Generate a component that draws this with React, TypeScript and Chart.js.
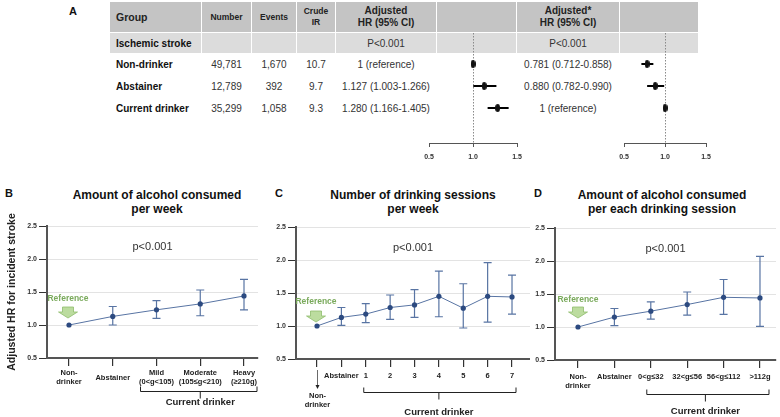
import React, { useEffect, useRef } from 'react';
import { Chart, registerables } from 'chart.js';
Chart.register(...registerables);

const FONT = '"Liberation Sans", Arial, Helvetica, sans-serif';
const NARROW = '"Liberation Sans Narrow", "Liberation Sans", Arial, sans-serif';
Chart.defaults.font.family = FONT;
Chart.defaults.color = '#222';

// ---------- Panel A data ----------
const tableGroups = ['Non-drinker', 'Abstainer', 'Current drinker'];
const tableNumber = ['49,781', '12,789', '35,299'];
const tableEvents = ['1,670', '392', '1,058'];
const tableCrudeIR = ['10.7', '9.7', '9.3'];
const adjText = ['1 (reference)', '1.127 (1.003-1.266)', '1.280 (1.166-1.405)'];
const adjHR = [1, 1.127, 1.28];
const adjLow = [1, 1.003, 1.166];
const adjHigh = [1, 1.266, 1.405];
const adj2Text = ['0.781 (0.712-0.858)', '0.880 (0.782-0.990)', '1 (reference)'];
const adj2HR = [0.781, 0.88, 1];
const adj2Low = [0.712, 0.782, 1];
const adj2High = [0.858, 0.99, 1];
const forestTicks = [0.5, 1.0, 1.5];

// ---------- Panel B data ----------
const bLabels: (string | string[])[] = [['Non-', 'drinker'], 'Abstainer', ['Mild', '(0<g<105)'], ['Moderate', '(105≤g<210)'], ['Heavy', '(≥210g)']];
const bHR = [1.0, 1.13, 1.23, 1.32, 1.44];
const bLow = [1.0, 1.0, 1.1, 1.14, 1.23];
const bHigh = [1.0, 1.28, 1.37, 1.53, 1.69];

// ---------- Panel C data ----------
const cLabels: (string | string[])[] = ['', 'Abstainer', '1', '2', '3', '4', '5', '6', '7'];
const cHR = [1.0, 1.13, 1.18, 1.28, 1.32, 1.45, 1.27, 1.45, 1.44];
const cLow = [1.0, 1.01, 1.05, 1.1, 1.13, 1.14, 0.97, 1.06, 1.18];
const cHigh = [1.0, 1.28, 1.34, 1.47, 1.55, 1.83, 1.64, 1.96, 1.77];

// ---------- Panel D data ----------
const dLabels: (string | string[])[] = [['Non-', 'drinker'], 'Abstainer', '0<g≤32', '32<g≤56', '56<g≤112', '>112g'];
const dHR = [1.0, 1.15, 1.24, 1.34, 1.45, 1.44];
const dLow = [1.0, 1.02, 1.12, 1.18, 1.19, 1.01];
const dHigh = [1.0, 1.28, 1.38, 1.53, 1.72, 2.07];

const yTicks = [0.5, 1.0, 1.5, 2.0, 2.5];

const LINE_COLOR = '#5874a3';
const POINT_COLOR = '#2c4a80';
const ERR_COLOR = '#5874a3';

function makeEllipse(w: number, h: number, color: string) {
  const c = document.createElement('canvas');
  c.width = w; c.height = h;
  const g = c.getContext('2d')!;
  g.fillStyle = color;
  g.beginPath();
  g.ellipse(w / 2, h / 2, w / 2, h / 2, 0, 0, Math.PI * 2);
  g.fill();
  return c;
}

type ForestProps = { left: number; width: number; padL: number; padR: number; values: number[]; low: number[]; high: number[] };

function Forest({ left, width, padL, padR, values, low, high }: ForestProps) {
  const ref = useRef<HTMLCanvasElement>(null);
  useEffect(() => {
    const marker = makeEllipse(5, 8, '#111');
    const ciPlugin = {
      id: 'ci',
      beforeDatasetsDraw(chart: any) {
        const { ctx, chartArea } = chart;
        const x = chart.scales.x, y = chart.scales.y;
        ctx.save();
        ctx.strokeStyle = '#8a8a8a';
        ctx.lineWidth = 1;
        ctx.setLineDash([1.5, 1.5]);
        const x1 = Math.round(x.getPixelForValue(1)) + 0.5;
        ctx.beginPath();
        ctx.moveTo(x1, chartArea.top);
        ctx.lineTo(x1, chartArea.bottom);
        ctx.stroke();
        ctx.setLineDash([]);
        ctx.strokeStyle = '#000';
        ctx.lineWidth = 2;
        values.forEach((_v, i) => {
          if (low[i] === high[i]) return;
          const py = y.getPixelForValue(i);
          ctx.beginPath();
          ctx.moveTo(x.getPixelForValue(low[i]), py);
          ctx.lineTo(x.getPixelForValue(high[i]), py);
          ctx.stroke();
        });
        ctx.restore();
      },
    };
    const chart = new Chart(ref.current!, {
      type: 'scatter',
      data: {
        datasets: [{
          data: values.map((v, i) => ({ x: v, y: i })),
          pointStyle: marker as any,
          pointRadius: 4,
          backgroundColor: '#000',
          borderWidth: 0,
        }],
      },
      options: {
        responsive: false,
        animation: false,
        layout: { padding: { left: padL, right: padR, top: 0, bottom: 0 }, autoPadding: false } as any,
        plugins: { legend: { display: false }, tooltip: { enabled: false } },
        scales: {
          x: {
            type: 'linear', min: 0.5, max: 1.5,
            afterBuildTicks: (ax: any) => { ax.ticks = forestTicks.map((v) => ({ value: v })); },
            afterFit: (ax: any) => { ax.height = 25; ax.paddingLeft = 0; ax.paddingRight = 0; },
            grid: { drawOnChartArea: false, tickLength: 4, tickColor: '#555' },
            border: { display: true, color: '#555', width: 1 },
            ticks: {
              callback: (v: any) => Number(v).toFixed(1),
              font: { family: NARROW, size: 7, weight: 'bold' },
              color: '#333', padding: 6, maxRotation: 0, autoSkip: false,
            },
          },
          y: { type: 'linear', display: false, reverse: true, min: -1.409, max: 3.59 },
        },
      } as any,
      plugins: [ciPlugin],
    });
    return () => chart.destroy();
  }, []);
  return <canvas ref={ref} width={width} height={135} style={{ position: 'absolute', left, top: 33, width, height: 135 }} />;
}

type PanelCfg = {
  left: number; width: number; yAxisW: number; padRight: number; chartBottom: number;
  xMin: number; xMax: number;
  labels: (string | string[])[]; values: number[]; low: number[]; high: number[];
  crossAlign: 'near' | 'center';
  tickPad: number;
  yTitle?: string;
  refTextDy: number; refArrowDy: number; refDx: number;
  bracketFrom: number; bracketTo: number; bracketPadL: number; bracketPadR: number;
  bracketDy: number; bracketTextDy: number;
  nonDrinkerBelow?: boolean;
};

const pValueY = 2.18;

function drawBlockArrow(ctx: CanvasRenderingContext2D, cx: number, top: number) {
  ctx.beginPath();
  ctx.moveTo(cx - 5.5, top);
  ctx.lineTo(cx + 5.5, top);
  ctx.lineTo(cx + 5.5, top + 5);
  ctx.lineTo(cx + 9.5, top + 5);
  ctx.lineTo(cx, top + 11);
  ctx.lineTo(cx - 9.5, top + 5);
  ctx.lineTo(cx - 5.5, top + 5);
  ctx.closePath();
  ctx.fillStyle = '#bcdc9f';
  ctx.fill();
  ctx.strokeStyle = '#8fbd6d';
  ctx.lineWidth = 0.8;
  ctx.stroke();
}

function Panel({ cfg }: { cfg: PanelCfg }) {
  const ref = useRef<HTMLCanvasElement>(null);
  const top = 200, height = 217;
  useEffect(() => {
    const plugin = {
      id: 'panelExtras',
      beforeDatasetsDraw(chart: any) {
        const { ctx } = chart;
        const x = chart.scales.x, y = chart.scales.y;
        ctx.save();
        ctx.strokeStyle = ERR_COLOR;
        ctx.lineWidth = 1.2;
        cfg.values.forEach((_v, i) => {
          const lo = cfg.low[i], hi = cfg.high[i];
          if (lo === hi) return;
          const px = x.getPixelForValue(i);
          const yl = y.getPixelForValue(lo), yh = y.getPixelForValue(hi);
          ctx.beginPath();
          ctx.moveTo(px, yl); ctx.lineTo(px, yh);
          ctx.moveTo(px - 4, yl); ctx.lineTo(px + 4, yl);
          ctx.moveTo(px - 4, yh); ctx.lineTo(px + 4, yh);
          ctx.stroke();
        });
        ctx.restore();
      },
      afterDraw(chart: any) {
        const { ctx, chartArea } = chart;
        const x = chart.scales.x, y = chart.scales.y;
        ctx.save();
        ctx.font = `11px ${FONT}`;
        ctx.fillStyle = '#333';
        ctx.textAlign = 'center';
        ctx.textBaseline = 'middle';
        ctx.fillText('p<0.001', (chartArea.left + chartArea.right) / 2, y.getPixelForValue(pValueY));
        const px0 = x.getPixelForValue(0);
        const py0 = y.getPixelForValue(cfg.values[0]);
        ctx.font = `bold 8.5px ${FONT}`;
        ctx.fillStyle = '#7aaa5c';
        ctx.fillText('Reference', px0 + cfg.refDx, py0 + cfg.refTextDy);
        drawBlockArrow(ctx, px0 + cfg.refDx, py0 + cfg.refArrowDy);
        const bl = x.getPixelForValue(cfg.bracketFrom) - cfg.bracketPadL;
        const br = x.getPixelForValue(cfg.bracketTo) + cfg.bracketPadR;
        const bc = (x.getPixelForValue(cfg.bracketFrom) + x.getPixelForValue(cfg.bracketTo)) / 2;
        const by = Math.round(chartArea.bottom + cfg.bracketDy) + 0.5;
        ctx.strokeStyle = '#222';
        ctx.lineWidth = 1;
        ctx.beginPath();
        ctx.moveTo(bl, by - 5); ctx.lineTo(bl, by); ctx.lineTo(br, by); ctx.lineTo(br, by - 5);
        ctx.moveTo(bc, by); ctx.lineTo(bc, by + 7);
        ctx.stroke();
        ctx.font = `bold 9.5px ${FONT}`;
        ctx.fillStyle = '#222';
        ctx.fillText('Current drinker', bc, chartArea.bottom + cfg.bracketTextDy);
        if (cfg.nonDrinkerBelow) {
          const ax = Math.round(px0) + 0.5;
          const t0 = chartArea.bottom + 11, t1 = chartArea.bottom + 29;
          ctx.strokeStyle = '#444';
          ctx.lineWidth = 0.8;
          ctx.beginPath(); ctx.moveTo(ax, t0); ctx.lineTo(ax, t1); ctx.stroke();
          ctx.fillStyle = '#222';
          ctx.beginPath(); ctx.moveTo(ax - 2, t1 - 3); ctx.lineTo(ax + 2, t1 - 3); ctx.lineTo(ax, t1 + 1); ctx.closePath(); ctx.fill();
          ctx.font = `bold 7.5px ${FONT}`;
          ctx.fillText('Non-', ax, chartArea.bottom + 37);
          ctx.fillText('drinker', ax, chartArea.bottom + 46);
        }
        ctx.restore();
      },
    };
    const chart = new Chart(ref.current!, {
      type: 'line',
      data: {
        datasets: [{
          data: cfg.values.map((v, i) => ({ x: i, y: v })),
          borderColor: LINE_COLOR,
          borderWidth: 1,
          pointRadius: 2.6,
          pointBackgroundColor: POINT_COLOR,
          pointBorderWidth: 0,
          tension: 0,
        }],
      },
      options: {
        responsive: false,
        animation: false,
        layout: { padding: { left: 0, right: cfg.padRight, top: cfg.chartBottom - 132 - top, bottom: 0 }, autoPadding: false } as any,
        plugins: { legend: { display: false }, tooltip: { enabled: false } },
        scales: {
          x: {
            type: 'linear', min: cfg.xMin, max: cfg.xMax,
            afterBuildTicks: (ax: any) => { ax.ticks = cfg.labels.map((_l, i) => ({ value: i })); },
            afterFit: (ax: any) => { ax.height = top + height - cfg.chartBottom; ax.paddingLeft = 0; ax.paddingRight = 0; },
            grid: { drawOnChartArea: false, tickLength: 8, tickColor: '#333', lineWidth: 1.2 },
            border: { display: true, color: '#555', width: 2 },
            ticks: {
              callback: (v: any) => cfg.labels[Math.round(Number(v))] as any,
              font: { size: 7.5, weight: 'bold' }, color: '#222',
              padding: cfg.tickPad, maxRotation: 0, autoSkip: false, crossAlign: cfg.crossAlign,
            },
          },
          y: {
            type: 'linear', min: 0.5, max: 2.5,
            afterBuildTicks: (ax: any) => { ax.ticks = yTicks.map((v) => ({ value: v })); },
            afterFit: (ax: any) => { ax.width = cfg.yAxisW; ax.paddingTop = 0; ax.paddingBottom = 0; },
            grid: {
              color: (c: any) => (c.tick && c.tick.value === 0.5 ? 'rgba(0,0,0,0)' : '#e3e3e3'),
              tickColor: '#333', tickLength: 8, lineWidth: 1,
            },
            border: { display: true, color: '#555', width: 2 },
            ticks: { callback: (v: any) => Number(v).toFixed(1), font: { size: 7, weight: 'bold' }, color: '#333', padding: 2 },
            title: cfg.yTitle
              ? { display: true, text: cfg.yTitle, font: { size: 10.5, weight: 'bold' }, color: '#222', padding: { top: 6, bottom: 0 } }
              : { display: false },
          },
        },
      } as any,
      plugins: [plugin],
    });
    return () => chart.destroy();
  }, []);
  return <canvas ref={ref} width={cfg.width} height={height} style={{ position: 'absolute', left: cfg.left, top, width: cfg.width, height }} />;
}

const panelB: PanelCfg = {
  left: 0, width: 262, yAxisW: 47, padRight: 4, chartBottom: 358,
  xMin: -0.503, xMax: 4.32,
  labels: bLabels, values: bHR, low: bLow, high: bHigh,
  crossAlign: 'center', tickPad: 7,
  yTitle: 'Adjusted HR for incident stroke',
  refTextDy: -26, refArrowDy: -18, refDx: -1,
  bracketFrom: 2, bracketTo: 4, bracketPadL: 16, bracketPadR: 13, bracketDy: 33, bracketTextDy: 44,
};
const panelC: PanelCfg = {
  left: 262, width: 268, yAxisW: 34, padRight: 0, chartBottom: 359,
  xMin: -0.862, xMax: 8.738,
  labels: cLabels, values: cHR, low: cLow, high: cHigh,
  crossAlign: 'near', tickPad: 4,
  refTextDy: -24, refArrowDy: -15, refDx: -1,
  bracketFrom: 2, bracketTo: 8, bracketPadL: 2, bracketPadR: 4, bracketDy: 33, bracketTextDy: 53,
  nonDrinkerBelow: true,
};
const panelD: PanelCfg = {
  left: 520, width: 260, yAxisW: 35, padRight: 4, chartBottom: 360,
  xMin: -0.632, xMax: 5.44,
  labels: dLabels, values: dHR, low: dLow, high: dHigh,
  crossAlign: 'near', tickPad: 4,
  refTextDy: -27, refArrowDy: -20, refDx: 0,
  bracketFrom: 2, bracketTo: 5, bracketPadL: 4, bracketPadR: 9, bracketDy: 34, bracketTextDy: 51,
};

const cols = [
  { l: 110, r: 202 }, { l: 202, r: 252 }, { l: 252, r: 297 }, { l: 297, r: 336 },
  { l: 336, r: 437 }, { l: 437, r: 517 }, { l: 517, r: 620 }, { l: 620, r: 699 },
];

function Cell(props: { c: number; top: number; h: number; bg?: string; left?: boolean; style?: React.CSSProperties; children?: React.ReactNode }) {
  const col = cols[props.c];
  return (
    <div style={{
      position: 'absolute', left: col.l, top: props.top, width: col.r - col.l - 1, height: props.h,
      background: props.bg || 'transparent', display: 'flex', alignItems: 'center',
      justifyContent: props.left ? 'flex-start' : 'center', paddingLeft: props.left ? 6 : 0,
      boxSizing: 'border-box', textAlign: 'center', whiteSpace: 'nowrap', color: '#222', ...props.style,
    }}>{props.children}</div>
  );
}

const HDR = '#c4c4c4';
const ROW2 = '#dcdcdc';
const rowCenters = [64, 86, 108];

function Title({ cx, lines }: { cx: number; lines: string[] }) {
  return (
    <div style={{ position: 'absolute', left: cx - 130, top: 188, width: 260, textAlign: 'center', font: `bold 12px ${FONT}`, lineHeight: '14px', color: '#111' }}>
      {lines.map((l, i) => <div key={i}>{l}</div>)}
    </div>
  );
}

function Letter({ x, y, t }: { x: number; y: number; t: string }) {
  return <div style={{ position: 'absolute', left: x, top: y, font: `bold 11px ${FONT}`, lineHeight: '12px', color: '#111' }}>{t}</div>;
}

export default function App() {
  const hdrSmall: React.CSSProperties = { font: `bold 8.5px ${FONT}`, lineHeight: '11px' };
  const hdrBig: React.CSSProperties = { font: `bold 10px ${FONT}`, lineHeight: '12px' };
  const body: React.CSSProperties = { font: `10px ${FONT}`, color: '#333' };
  const bodyBold: React.CSSProperties = { font: `bold 10px ${FONT}`, color: '#111' };
  return (
    <div style={{ position: 'absolute', left: 0, top: 0, width: 780, height: 417, background: '#fff', overflow: 'hidden', fontFamily: FONT }}>
      <Letter x={69} y={5} t="A" />
      {cols.map((_c, i) => <Cell key={'h' + i} c={i} top={2} h={30} bg={HDR} />)}
      {cols.map((_c, i) => <Cell key={'s' + i} c={i} top={33} h={20} bg={ROW2} />)}
      <Cell c={0} top={2} h={30} left style={{ font: `bold 10.5px ${FONT}` }}>Group</Cell>
      <Cell c={1} top={2} h={30} style={hdrSmall}>Number</Cell>
      <Cell c={2} top={2} h={30} style={hdrSmall}>Events</Cell>
      <Cell c={3} top={2} h={30} style={hdrSmall}><div>Crude<br />IR</div></Cell>
      <Cell c={4} top={2} h={30} style={hdrBig}><div>Adjusted<br />HR (95% CI)</div></Cell>
      <Cell c={6} top={2} h={30} style={hdrBig}><div>Adjusted*<br />HR (95% CI)</div></Cell>
      <Cell c={0} top={33} h={20} left style={bodyBold}>Ischemic stroke</Cell>
      <Cell c={4} top={33} h={20} style={body}>P&lt;0.001</Cell>
      <Cell c={6} top={33} h={20} style={body}>P&lt;0.001</Cell>
      {tableGroups.map((g, i) => (
        <React.Fragment key={g}>
          <Cell c={0} top={rowCenters[i] - 11} h={22} left style={bodyBold}>{g}</Cell>
          <Cell c={1} top={rowCenters[i] - 11} h={22} style={body}>{tableNumber[i]}</Cell>
          <Cell c={2} top={rowCenters[i] - 11} h={22} style={body}>{tableEvents[i]}</Cell>
          <Cell c={3} top={rowCenters[i] - 11} h={22} style={body}>{tableCrudeIR[i]}</Cell>
          <Cell c={4} top={rowCenters[i] - 11} h={22} style={body}>{adjText[i]}</Cell>
          <Cell c={6} top={rowCenters[i] - 11} h={22} style={body}>{adj2Text[i]}</Cell>
        </React.Fragment>
      ))}
      <Forest left={415} width={115} padL={14} padR={13} values={adjHR} low={adjLow} high={adjHigh} />
      <Forest left={610} width={110} padL={14} padR={14} values={adj2HR} low={adj2Low} high={adj2High} />

      <Title cx={157} lines={['Amount of alcohol consumed', 'per week']} />
      <Title cx={413} lines={['Number of drinking sessions', 'per week']} />
      <Title cx={662} lines={['Amount of alcohol consumed', 'per each drinking session']} />
      <Letter x={5} y={187} t="B" />
      <Letter x={275} y={187} t="C" />
      <Letter x={534} y={187} t="D" />
      <Panel cfg={panelB} />
      <Panel cfg={panelC} />
      <Panel cfg={panelD} />
    </div>
  );
}
